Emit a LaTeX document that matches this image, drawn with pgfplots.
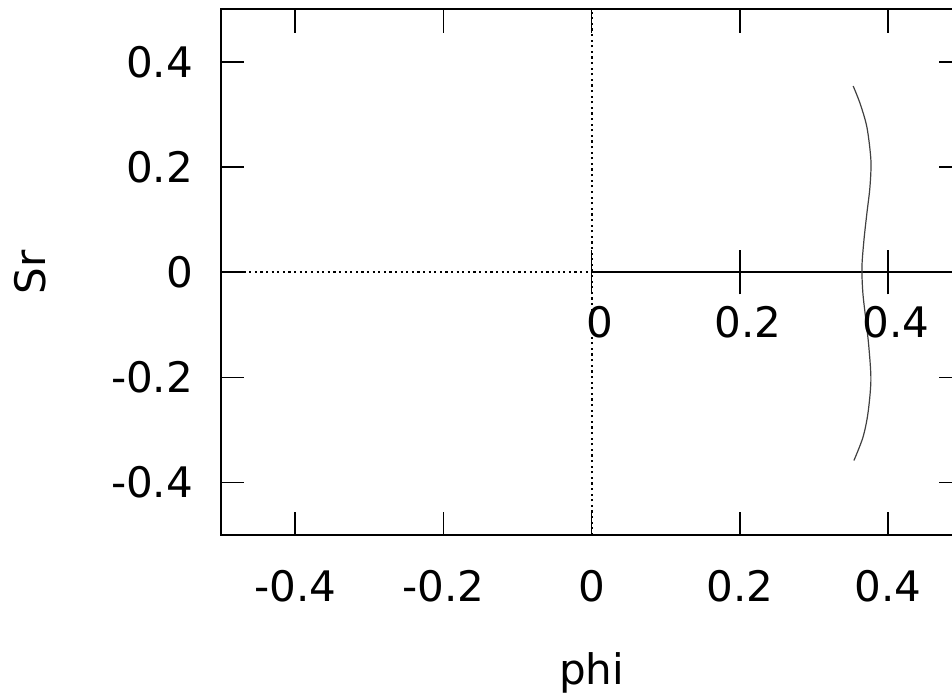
\documentclass[border=0pt]{standalone}
\usepackage{fontspec}
\setmainfont{DejaVu Sans}
\usepackage{pgfplots}
\pgfplotsset{compat=1.18}
\tikzset{zlab/.style={anchor=north, inner sep=0pt, xshift=2pt, yshift=-8.25pt,
                      font=\fontsize{10.5}{12}\selectfont}}

\begin{document}
\begin{tikzpicture}
\begin{axis}[
    scale only axis,
    width=185pt,
    height=131.25pt,
    xmin=-0.5, xmax=0.5,
    ymin=-0.5, ymax=0.5,
    xtick={-0.4,-0.2,0,0.2,0.4},
    ytick={-0.4,-0.2,0,0.2,0.4},
    tick align=inside,
    major tick length=5.8pt,
    axis line style={line width=0.5pt},
    every tick/.style={black, line width=0.4pt},
    /pgf/number format/assume math mode=true,
    tick label style={font=\fontsize{10.5}{12}\selectfont},
    label style={font=\fontsize{10.5}{12}\selectfont},
    xticklabel style={yshift=-5.25pt},
    yticklabel style={xshift=-3.5pt},
    xlabel={phi},
    ylabel={Sr},
    xlabel style={at={(rel axis cs:0.5,-0.262)}, anchor=center},
    ylabel style={at={(rel axis cs:-0.258,0.5)}, anchor=center},
    clip=false,
]
% dotted zero axes
\draw[dash pattern=on 0.55pt off 0.85pt, line width=0.45pt] (axis cs:-0.5,0) -- (axis cs:0,0);
\draw[dash pattern=on 0.55pt off 0.85pt, line width=0.45pt] (axis cs:0,-0.5) -- (axis cs:0,0.5);

% trivial branch Sr = 0 for phi > 0
\addplot[black, line width=0.45pt] coordinates {(0,0) (0.5,0)};

% bifurcated branch
\addplot[black!75, line width=0.3pt, smooth] coordinates {
    (0.3531, 0.3543) (0.3622, 0.3219) (0.3716, 0.2762) (0.3770, 0.2133)
    (0.3757, 0.1619) (0.3716, 0.1124) (0.3676, 0.0610) (0.3649, 0.0095)
    (0.3662,-0.0400) (0.3703,-0.0914) (0.3743,-0.1429) (0.3770,-0.2057)
    (0.3730,-0.2686) (0.3662,-0.3143) (0.3541,-0.3581)
};

% ticks and labels on the zero axis
\draw[line width=0.4pt] ([yshift=-5.5pt]axis cs:0,0) -- ([yshift=5.5pt]axis cs:0,0);
\draw[line width=0.4pt] ([yshift=-5.5pt]axis cs:0.2,0) -- ([yshift=5.5pt]axis cs:0.2,0);
\draw[line width=0.4pt] ([yshift=-5.5pt]axis cs:0.4,0) -- ([yshift=5.5pt]axis cs:0.4,0);
\node[zlab] at (axis cs:0,0) {0};
\node[zlab] at (axis cs:0.2,0) {0.2};
\node[zlab] at (axis cs:0.4,0) {0.4};

\coordinate (bbl) at (axis cs:-0.7986,-0.8038);
\coordinate (btr) at (axis cs:0.4865,0.518);
\end{axis}
\pgfresetboundingbox
\useasboundingbox (bbl) rectangle (btr);
\end{tikzpicture}
\end{document}
